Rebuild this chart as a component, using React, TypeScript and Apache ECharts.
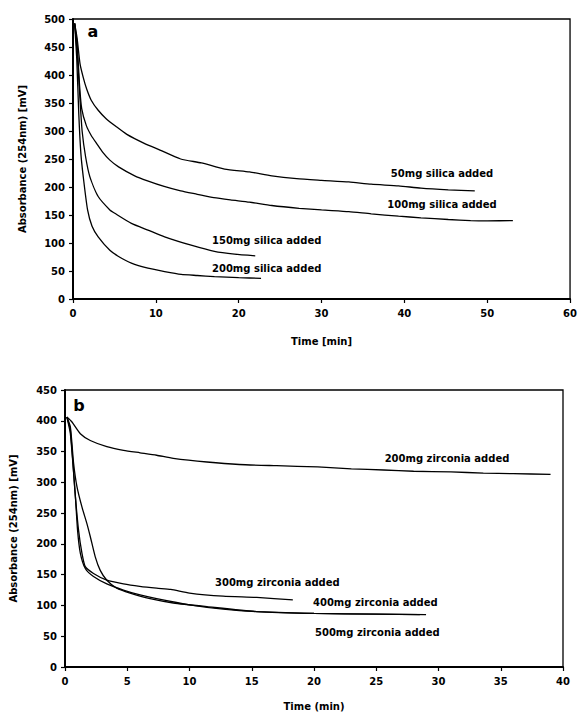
import React, { useEffect, useRef } from "react";
import * as echarts from "echarts";

// Panel a: silica additions (time [min], absorbance [mV])
const silica50: [number, number][] = [
  [0.2, 492], [0.5, 465], [0.85, 420], [1.25, 395], [1.65, 375], [2.2, 355], [3.04, 337], [4, 322],
  [5.2, 308], [6.5, 294], [8.6, 278], [10.5, 266], [13, 250], [15.5, 243], [18.3, 232], [21.3, 227],
  [24, 220], [27, 215], [30, 212], [33.3, 209], [36, 205], [39.3, 202], [42, 198], [45.3, 195], [48.5, 193],
];
const silica100: [number, number][] = [
  [0.2, 492], [0.5, 455], [0.8, 380], [1.05, 340], [1.6, 310], [2.2, 292], [2.84, 278], [3.6, 262],
  [4.45, 248], [5.5, 236], [7.45, 220], [9, 211], [11, 201], [13, 193], [15, 187], [17, 181], [19, 177],
  [21.3, 173], [24, 167], [27.3, 162], [30, 159], [33.3, 156], [36, 152], [39.3, 148], [42, 145],
  [45.3, 142], [48, 140], [50, 139.5], [53.1, 140],
];
const silica150: [number, number][] = [
  [0.2, 492], [0.5, 440], [0.85, 355], [1.1, 300], [1.52, 254], [2.04, 218], [3.04, 183], [4.45, 159],
  [5.05, 153], [7.05, 135], [9.05, 123], [11.06, 111], [14.26, 96], [17.07, 85], [19.5, 80], [22, 77],
];
const silica200: [number, number][] = [
  [0.2, 492], [0.45, 430], [0.7, 330], [0.95, 260], [1.24, 218], [1.76, 159], [2.3, 130], [3.04, 111],
  [4.45, 87], [5.5, 76], [7.05, 64], [9.05, 55], [11.06, 49], [13.06, 44], [15, 42], [17.07, 40],
  [20, 38], [22.7, 37],
];

// Panel b: zirconia additions
const zirconia200: [number, number][] = [
  [0.15, 406], [0.56, 398], [1.23, 379], [2.03, 368], [3.36, 358], [4.7, 352], [6.03, 348], [7.36, 344],
  [8.7, 339], [11.4, 333], [14, 329], [17, 327], [20.3, 325], [23, 322], [25.6, 320], [28, 318],
  [31, 317], [33.6, 315], [36, 314], [39, 313],
];
const zirconia300: [number, number][] = [
  [0.15, 406], [0.43, 385], [0.83, 278], [1.09, 222], [1.36, 185], [1.63, 163], [2.29, 152], [3.36, 141],
  [4.69, 135], [6, 131], [7.36, 128], [8.5, 126], [10, 120], [12.7, 115], [15.4, 113], [18.3, 109],
];
const zirconia400: [number, number][] = [
  [0.15, 406], [0.43, 390], [0.69, 331], [0.96, 293], [1.36, 260], [1.76, 233], [2.03, 212], [2.43, 179],
  [2.83, 157], [3.36, 141], [4.16, 128], [5.23, 120], [6.83, 111], [8.7, 104], [11.4, 98], [15.4, 90],
  [20, 87], [25, 86], [29, 85],
];
const zirconia500: [number, number][] = [
  [0.15, 406], [0.43, 379], [0.83, 278], [1.01, 222], [1.23, 185], [1.63, 160], [2.29, 147], [3.36, 135],
  [4.69, 125], [6.03, 117], [7.36, 111], [10, 101], [12.7, 94], [15.4, 90], [20, 87], [25, 86], [28.5, 85],
];

const labelsA = ["50mg silica added", "100mg silica added", "150mg silica added", "200mg silica added"];
const labelsB = ["200mg zirconia added", "300mg zirconia added", "400mg zirconia added", "500mg zirconia added"];
const yTitle = "Absorbance (254nm) [mV]";
const xTitleA = "Time [min]";
const xTitleB = "Time (min)";

const FONT = "DejaVu Sans";

export default function App() {
  const ref = useRef<HTMLDivElement>(null);
  useEffect(() => {
    if (!ref.current) return;
    const chart = echarts.init(ref.current, undefined, { renderer: "svg" });
    const axisLabel = { color: "#000", fontFamily: FONT, fontWeight: "bold" as const, fontSize: 10 };
    const line = (data: [number, number][], idx: number) => ({
      type: "line" as const,
      data,
      xAxisIndex: idx,
      yAxisIndex: idx,
      showSymbol: false,
      symbol: "none",
      smooth: 0.2,
      lineStyle: { color: "#000", width: 1.3 },
    });
    const xAx = (idx: number, max: number, interval: number, name: string, gap: number) => ({
      type: "value" as const,
      gridIndex: idx,
      min: 0,
      max,
      interval,
      name,
      nameLocation: "middle" as const,
      nameGap: gap,
      nameTextStyle: { color: "#000", fontFamily: FONT, fontWeight: "bold" as const, fontSize: 10 },
      axisLine: { show: true, lineStyle: { color: "#000", width: 2 } },
      axisTick: { show: true, length: 4, lineStyle: { color: "#000", width: 1.2 } },
      axisLabel: { ...axisLabel, margin: 9 },
      splitLine: { show: false },
    });
    const yAx = (idx: number, max: number, gap: number) => ({
      type: "value" as const,
      gridIndex: idx,
      min: 0,
      max,
      interval: 50,
      name: yTitle,
      nameLocation: "middle" as const,
      nameGap: gap,
      nameTextStyle: { color: "#000", fontFamily: FONT, fontWeight: "bold" as const, fontSize: 10 },
      axisLine: { show: true, lineStyle: { color: "#000", width: 2 } },
      axisTick: { show: true, length: 4, lineStyle: { color: "#000", width: 1.2 } },
      axisLabel: { ...axisLabel, margin: 8 },
      splitLine: { show: false },
    });
    const txt = (text: string, x: number, y: number, size = 10, align = "center") => ({
      type: "text" as const,
      x,
      y,
      style: {
        text,
        fill: "#000",
        font: `bold ${size}px "${FONT}"`,
        textAlign: align,
        textVerticalAlign: "middle",
      },
    });
    chart.setOption({
      animation: false,
      backgroundColor: "#fff",
      grid: [
        { left: 73, right: 8, top: 19, bottom: 421, show: true, borderColor: "#000", borderWidth: 1.3 },
        { left: 63, right: 17, top: 390, bottom: 53, show: true, borderColor: "#000", borderWidth: 1.3 },
      ],
      xAxis: [xAx(0, 60, 10, xTitleA, 37), xAx(1, 40, 5, xTitleB, 34)],
      yAxis: [yAx(0, 500, 46), yAx(1, 450, 47)],
      series: [
        line(silica50, 0),
        line(silica100, 0),
        line(silica150, 0),
        line(silica200, 0),
        line(zirconia200, 1),
        line(zirconia300, 1),
        line(zirconia400, 1),
        line(zirconia500, 1),
      ],
      graphic: [
        txt("a", 93, 31, 16),
        txt("b", 79, 405, 16),
        txt(labelsA[0], 442, 173),
        txt(labelsA[1], 442, 204),
        txt(labelsA[2], 212, 240, 10, "left"),
        txt(labelsA[3], 212, 268, 10, "left"),
        txt(labelsB[0], 447, 458),
        txt(labelsB[1], 215, 582, 10, "left"),
        txt(labelsB[2], 313, 602, 10, "left"),
        txt(labelsB[3], 315, 632, 10, "left"),
      ],
    });
    return () => chart.dispose();
  }, []);
  return (
    <div
      ref={ref}
      style={{ position: "absolute", left: 0, top: 0, width: 580, height: 720, background: "#fff" }}
    />
  );
}
